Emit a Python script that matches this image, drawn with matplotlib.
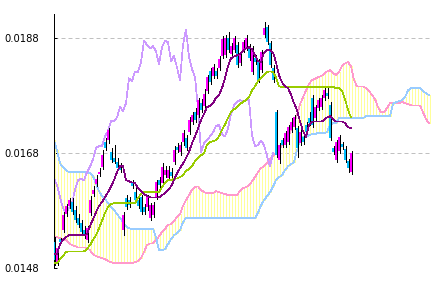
import numpy as np
import matplotlib
matplotlib.use("Agg")
import matplotlib.pyplot as plt
from matplotlib import font_manager
from matplotlib.font_manager import FontProperties

# candles (100 bars)
open_ = [0.01524, 0.01488, 0.01529, 0.01545, 0.01573, 0.01587, 0.01594, 0.01580, 0.01566, 0.01557,
         0.01545, 0.01528, 0.01574, 0.01608, 0.01625, 0.01642, 0.01654, 0.01698, 0.01701, 0.01681,
         0.01670, 0.01663, 0.01656, 0.01545, 0.01601, 0.01597, 0.01628, 0.01611, 0.01597, 0.01602,
         0.01585, 0.01585, 0.01566, 0.01571, 0.01602, 0.01632, 0.01627, 0.01641, 0.01635, 0.01646,
         0.01663, 0.01689, 0.01681, 0.01698, 0.01705, 0.01715, 0.01733, 0.01750, 0.01745, 0.01766,
         0.01761, 0.01787, 0.01821, 0.01813, 0.01821, 0.01827, 0.01848, 0.01849, 0.01879, 0.01851,
         0.01858, 0.01867, 0.01835, 0.01858, 0.01861, 0.01863, 0.01820, 0.01844, 0.01837, 0.01823,
         0.01884, 0.01898, 0.01870, 0.01827, 0.01750, 0.01667, 0.01701, 0.01693, 0.01698, 0.01719,
         0.01724, 0.01722, 0.01696, 0.01707, 0.01728, 0.01740, 0.01775, 0.01740, 0.01757, 0.01759,
         0.01775, 0.01783, 0.01762, 0.01688, 0.01667, 0.01682, 0.01694, 0.01686, 0.01665, 0.01646]
high = [0.01533, 0.01517, 0.01531, 0.01576, 0.01590, 0.01601, 0.01601, 0.01587, 0.01573, 0.01562,
        0.01552, 0.01552, 0.01604, 0.01621, 0.01641, 0.01653, 0.01684, 0.01705, 0.01722, 0.01688,
        0.01693, 0.01670, 0.01661, 0.01576, 0.01606, 0.01602, 0.01632, 0.01618, 0.01604, 0.01606,
        0.01590, 0.01606, 0.01592, 0.01594, 0.01632, 0.01637, 0.01661, 0.01656, 0.01656, 0.01653,
        0.01691, 0.01696, 0.01698, 0.01719, 0.01710, 0.01741, 0.01750, 0.01757, 0.01775, 0.01773,
        0.01790, 0.01814, 0.01827, 0.01834, 0.01827, 0.01848, 0.01882, 0.01884, 0.01889, 0.01870,
        0.01882, 0.01872, 0.01854, 0.01875, 0.01884, 0.01868, 0.01865, 0.01849, 0.01842, 0.01858,
        0.01907, 0.01901, 0.01874, 0.01832, 0.01754, 0.01696, 0.01705, 0.01717, 0.01728, 0.01740,
        0.01745, 0.01726, 0.01719, 0.01710, 0.01733, 0.01750, 0.01780, 0.01762, 0.01775, 0.01780,
        0.01794, 0.01792, 0.01768, 0.01691, 0.01701, 0.01710, 0.01698, 0.01691, 0.01668, 0.01682]
low = [0.01484, 0.01484, 0.01522, 0.01541, 0.01569, 0.01583, 0.01573, 0.01559, 0.01550, 0.01538,
       0.01531, 0.01524, 0.01571, 0.01604, 0.01621, 0.01639, 0.01651, 0.01684, 0.01696, 0.01663,
       0.01661, 0.01649, 0.01646, 0.01536, 0.01581, 0.01585, 0.01618, 0.01594, 0.01583, 0.01573,
       0.01573, 0.01580, 0.01562, 0.01568, 0.01599, 0.01620, 0.01623, 0.01637, 0.01632, 0.01635,
       0.01660, 0.01681, 0.01675, 0.01693, 0.01684, 0.01712, 0.01729, 0.01733, 0.01741, 0.01750,
       0.01757, 0.01783, 0.01799, 0.01809, 0.01809, 0.01823, 0.01844, 0.01846, 0.01854, 0.01848,
       0.01854, 0.01828, 0.01832, 0.01854, 0.01858, 0.01841, 0.01816, 0.01834, 0.01802, 0.01820,
       0.01881, 0.01868, 0.01828, 0.01802, 0.01672, 0.01661, 0.01689, 0.01689, 0.01694, 0.01715,
       0.01721, 0.01672, 0.01693, 0.01694, 0.01712, 0.01728, 0.01724, 0.01736, 0.01754, 0.01755,
       0.01771, 0.01775, 0.01701, 0.01677, 0.01663, 0.01679, 0.01686, 0.01663, 0.01646, 0.01642]
close = [0.01493, 0.01514, 0.01524, 0.01571, 0.01587, 0.01597, 0.01576, 0.01562, 0.01554, 0.01541,
         0.01534, 0.01548, 0.01597, 0.01615, 0.01634, 0.01646, 0.01675, 0.01688, 0.01719, 0.01667,
         0.01663, 0.01653, 0.01649, 0.01571, 0.01585, 0.01588, 0.01621, 0.01597, 0.01587, 0.01576,
         0.01576, 0.01602, 0.01588, 0.01588, 0.01628, 0.01623, 0.01654, 0.01649, 0.01649, 0.01639,
         0.01684, 0.01684, 0.01693, 0.01714, 0.01688, 0.01736, 0.01745, 0.01736, 0.01771, 0.01754,
         0.01781, 0.01811, 0.01802, 0.01828, 0.01813, 0.01842, 0.01877, 0.01879, 0.01858, 0.01865,
         0.01879, 0.01832, 0.01849, 0.01872, 0.01879, 0.01844, 0.01861, 0.01837, 0.01806, 0.01854,
         0.01896, 0.01872, 0.01832, 0.01806, 0.01675, 0.01693, 0.01693, 0.01714, 0.01724, 0.01733,
         0.01741, 0.01688, 0.01715, 0.01698, 0.01715, 0.01731, 0.01728, 0.01759, 0.01771, 0.01775,
         0.01788, 0.01778, 0.01705, 0.01681, 0.01698, 0.01707, 0.01689, 0.01667, 0.01653, 0.01679]

# ichimoku lines
tenkan = [0.01503, 0.01503, 0.01521, 0.01528, 0.01533, 0.01536, 0.01536, 0.01536, 0.01536, 0.01536,
          0.01536, 0.01538, 0.01552, 0.01564, 0.01576, 0.01587, 0.01594, 0.01602, 0.01611, 0.01621,
          0.01632, 0.01646, 0.01656, 0.01656, 0.01632, 0.01630, 0.01628, 0.01627, 0.01618, 0.01613,
          0.01608, 0.01604, 0.01602, 0.01602, 0.01602, 0.01602, 0.01606, 0.01609, 0.01615, 0.01621,
          0.01632, 0.01644, 0.01653, 0.01661, 0.01670, 0.01681, 0.01696, 0.01708, 0.01722, 0.01736,
          0.01747, 0.01759, 0.01761, 0.01766, 0.01775, 0.01780, 0.01792, 0.01809, 0.01830, 0.01844,
          0.01847, 0.01849, 0.01851, 0.01856, 0.01861, 0.01863, 0.01860, 0.01849, 0.01839, 0.01837,
          0.01854, 0.01858, 0.01858, 0.01854, 0.01837, 0.01814, 0.01802, 0.01795, 0.01792, 0.01781,
          0.01766, 0.01754, 0.01734, 0.01717, 0.01707, 0.01727, 0.01734, 0.01734, 0.01734, 0.01734,
          0.01736, 0.01741, 0.01743, 0.01738, 0.01734, 0.01734, 0.01734, 0.01731, 0.01724, 0.01722]
kijun = [0.01488, 0.01488, 0.01494, 0.01500, 0.01507, 0.01508, 0.01508, 0.01508, 0.01508, 0.01508,
         0.01508, 0.01512, 0.01519, 0.01528, 0.01536, 0.01548, 0.01561, 0.01575, 0.01585, 0.01590,
         0.01592, 0.01592, 0.01592, 0.01592, 0.01592, 0.01592, 0.01592, 0.01592, 0.01601, 0.01608,
         0.01611, 0.01611, 0.01611, 0.01611, 0.01611, 0.01611, 0.01620, 0.01627, 0.01632, 0.01632,
         0.01634, 0.01635, 0.01637, 0.01641, 0.01648, 0.01651, 0.01656, 0.01665, 0.01670, 0.01675,
         0.01679, 0.01694, 0.01698, 0.01700, 0.01701, 0.01708, 0.01719, 0.01729, 0.01740, 0.01750,
         0.01755, 0.01759, 0.01764, 0.01768, 0.01771, 0.01776, 0.01788, 0.01795, 0.01804, 0.01809,
         0.01815, 0.01820, 0.01821, 0.01820, 0.01811, 0.01795, 0.01794, 0.01794, 0.01794, 0.01794,
         0.01794, 0.01794, 0.01794, 0.01794, 0.01794, 0.01794, 0.01794, 0.01794, 0.01794, 0.01794,
         0.01794, 0.01794, 0.01794, 0.01794, 0.01792, 0.01792, 0.01787, 0.01773, 0.01754, 0.01741]
chikou = [0.01635, 0.01623, 0.01602, 0.01583, 0.01576, 0.01583, 0.01592, 0.01615, 0.01632, 0.01634,
          0.01632, 0.01646, 0.01655, 0.01668, 0.01688, 0.01691, 0.01691, 0.01708, 0.01717, 0.01735,
          0.01735, 0.01741, 0.01759, 0.01752, 0.01766, 0.01809, 0.01804, 0.01821, 0.01820, 0.01837,
          0.01875, 0.01867, 0.01861, 0.01865, 0.01856, 0.01834, 0.01863, 0.01874, 0.01872, 0.01839,
          0.01848, 0.01828, 0.01806, 0.01867, 0.01894, 0.01846, 0.01825, 0.01811, 0.01757, 0.01681,
          0.01696, 0.01701, 0.01708, 0.01715, 0.01726, 0.01728, 0.01712, 0.01708, 0.01722, 0.01747,
          0.01762, 0.01768, 0.01771, 0.01769, 0.01771, 0.01771, 0.01710, 0.01691, 0.01693, 0.01701,
          0.01693, 0.01674, 0.01656, 0.01679]
senkou_a = [0.01534, 0.01533, 0.01531, 0.01529, 0.01528, 0.01522, 0.01519, 0.01517, 0.01515, 0.01515,
            0.01515, 0.01514, 0.01510, 0.01503, 0.01500, 0.01498, 0.01496, 0.01495, 0.01491, 0.01489,
            0.01488, 0.01488, 0.01488, 0.01488, 0.01488, 0.01488, 0.01488, 0.01489, 0.01491, 0.01496,
            0.01507, 0.01519, 0.01522, 0.01522, 0.01528, 0.01534, 0.01542, 0.01547, 0.01555, 0.01555,
            0.01561, 0.01568, 0.01573, 0.01587, 0.01597, 0.01606, 0.01615, 0.01620, 0.01621, 0.01615,
            0.01611, 0.01609, 0.01609, 0.01609, 0.01613, 0.01611, 0.01609, 0.01608, 0.01606, 0.01606,
            0.01606, 0.01606, 0.01613, 0.01618, 0.01620, 0.01623, 0.01630, 0.01637, 0.01646, 0.01653,
            0.01656, 0.01661, 0.01668, 0.01674, 0.01679, 0.01684, 0.01693, 0.01700, 0.01707, 0.01719,
            0.01733, 0.01745, 0.01764, 0.01776, 0.01788, 0.01799, 0.01806, 0.01808, 0.01811, 0.01813,
            0.01816, 0.01821, 0.01823, 0.01818, 0.01815, 0.01820, 0.01830, 0.01835, 0.01837, 0.01830,
            0.01806, 0.01795, 0.01795, 0.01795, 0.01792, 0.01787, 0.01780, 0.01773, 0.01759, 0.01750,
            0.01750, 0.01757, 0.01766, 0.01766, 0.01766, 0.01766, 0.01768, 0.01766, 0.01764, 0.01762,
            0.01762, 0.01762, 0.01762, 0.01750, 0.01738, 0.01731]
senkou_b = [0.01701, 0.01684, 0.01661, 0.01655, 0.01649, 0.01646, 0.01646, 0.01646, 0.01646, 0.01646,
            0.01646, 0.01646, 0.01644, 0.01639, 0.01625, 0.01613, 0.01604, 0.01599, 0.01592, 0.01585,
            0.01580, 0.01573, 0.01566, 0.01559, 0.01552, 0.01548, 0.01547, 0.01547, 0.01547, 0.01547,
            0.01547, 0.01547, 0.01547, 0.01547, 0.01533, 0.01510, 0.01510, 0.01512, 0.01521, 0.01529,
            0.01536, 0.01540, 0.01545, 0.01559, 0.01566, 0.01566, 0.01566, 0.01566, 0.01566, 0.01566,
            0.01566, 0.01566, 0.01566, 0.01566, 0.01566, 0.01566, 0.01566, 0.01566, 0.01566, 0.01566,
            0.01566, 0.01566, 0.01566, 0.01566, 0.01566, 0.01566, 0.01566, 0.01566, 0.01575, 0.01588,
            0.01597, 0.01604, 0.01611, 0.01621, 0.01632, 0.01637, 0.01641, 0.01649, 0.01656, 0.01660,
            0.01663, 0.01684, 0.01701, 0.01707, 0.01708, 0.01710, 0.01712, 0.01712, 0.01714, 0.01714,
            0.01714, 0.01715, 0.01728, 0.01731, 0.01731, 0.01740, 0.01740, 0.01740, 0.01740, 0.01740,
            0.01740, 0.01740, 0.01740, 0.01740, 0.01743, 0.01743, 0.01743, 0.01743, 0.01743, 0.01743,
            0.01743, 0.01743, 0.01743, 0.01764, 0.01768, 0.01769, 0.01771, 0.01776, 0.01788, 0.01792,
            0.01792, 0.01792, 0.01792, 0.01787, 0.01783, 0.01780]

yticks = [0.0148, 0.0168, 0.0188]
ytick_labels = ["0.0148", "0.0168", "0.0188"]


def label_font():
    # a narrow face like the reference, falling back to smaller regular text
    files = [f.fname for f in font_manager.fontManager.ttflist]
    for key, size in [("LiberationSansNarrow-Regular", 9), ("DejaVuSansCondensed.ttf", 8)]:
        for fn in files:
            if key in fn:
                return FontProperties(fname=fn, size=size)
    return FontProperties(family="Liberation Sans", size=8)


W, H = 434, 281
fig = plt.figure(figsize=(W / 100, H / 100), dpi=100)
ax = fig.add_axes([53.5 / W, 1 - 268 / H, (431 - 53.5) / W, 254 / H])

px = 1.0 / 3  # one pixel in bar units
n = len(close)
x = np.arange(n)
xc = np.arange(len(senkou_a))
lw = 0.5   # thin, 1px non-antialiased strokes

o = np.array(open_)
c = np.array(close)
up = c >= o

# cloud: thin yellow vertical strokes between the spans
ax.vlines(xc + 0.5 * px, senkou_a, senkou_b, color="#FFFF99", lw=lw,
          antialiased=False, zorder=1)
ax.plot(xc, senkou_a, color="#FF99CC", lw=lw, antialiased=False, zorder=2)
ax.plot(xc, senkou_b, color="#99CCFF", lw=lw, antialiased=False, zorder=2)
ax.plot(np.arange(len(chikou)), chikou, color="#CC99FF", lw=lw,
        antialiased=False, zorder=2)

# candles
ax.vlines(x + 0.5 * px, low, high, color="black", lw=lw, antialiased=False, zorder=3)
body_lo = np.minimum(o, c)
body_h = np.maximum(np.abs(c - o), 0.00002)
ax.bar(x, body_h, bottom=body_lo, width=2 * px,
       color=np.where(up, "#FF00FF", "#00BFFF"), linewidth=0,
       antialiased=False, zorder=4)

ax.plot(x, kijun, color="#99CC00", lw=lw, antialiased=False, zorder=5)
ax.plot(x, tenkan, color="#800080", lw=lw, antialiased=False, zorder=5)

ax.set_xlim(-0.5 * px, (431 - 54) * px)
ax.set_ylim(0.0148 - 0.5 / 57500, 0.0188 + 23.5 / 57500)

for s in ["top", "right", "bottom"]:
    ax.spines[s].set_visible(False)
ax.spines["left"].set_linewidth(0.72)
ax.set_xticks([])
ax.set_yticks(yticks)
ax.set_yticklabels(ytick_labels, fontproperties=label_font())
ax.tick_params(axis="y", direction="in", length=2.5, width=0.72, pad=10.5)
ax.grid(axis="y", color="#C0C0C0", linestyle=(0, (4, 3)), lw=0.72)
ax.set_axisbelow(True)

fig.savefig("out.png", dpi=100)
